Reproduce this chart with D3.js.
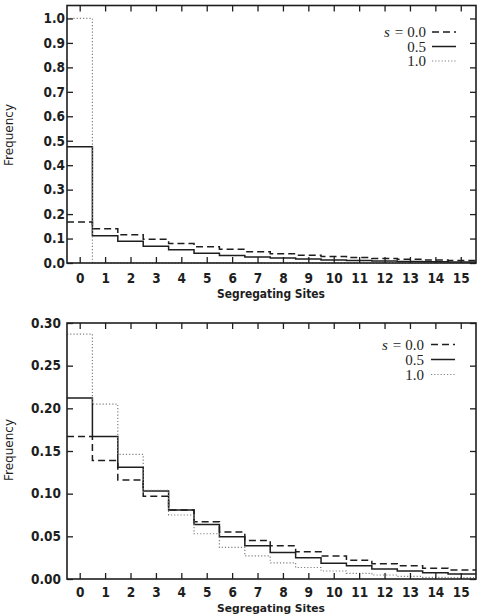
<!DOCTYPE html>
<html lang="en">
<head>
<meta charset="UTF-8">
<title>Segregating Sites</title>
<script src="https://d3js.org/d3.v7.min.js"></script>
<style>
  body { margin: 0; background: #fff; }
  svg { display: block; }
</style>
</head>
<body>
<script>
// bins on the x axis (number of segregating sites)
const sites = [0, 1, 2, 3, 4, 5, 6, 7, 8, 9, 10, 11, 12, 13, 14, 15];

// legend labels, one per series
const sLabels = ["0.0", "0.5", "1.0"];

// top panel
const topS00 = [0.168, 0.140, 0.116, 0.097, 0.080, 0.066, 0.056, 0.046, 0.038, 0.032, 0.027, 0.022, 0.018, 0.015, 0.012, 0.010];
const topS05 = [0.475, 0.111, 0.089, 0.068, 0.054, 0.040, 0.031, 0.025, 0.020, 0.016, 0.012, 0.010, 0.008, 0.006, 0.005, 0.004];
const topS10 = [1.000, 0.000, 0.000, 0.000, 0.000, 0.000, 0.000, 0.000, 0.000, 0.000, 0.000, 0.000, 0.000, 0.000, 0.000, 0.000];

// bottom panel
const botS00 = [0.167, 0.139, 0.116, 0.097, 0.081, 0.067, 0.055, 0.045, 0.039, 0.032, 0.027, 0.022, 0.018, 0.0155, 0.0125, 0.0105];
const botS05 = [0.212, 0.167, 0.131, 0.103, 0.081, 0.064, 0.0495, 0.039, 0.031, 0.025, 0.0185, 0.0155, 0.0117, 0.0094, 0.0074, 0.0059];
const botS10 = [0.287, 0.205, 0.146, 0.104, 0.075, 0.053, 0.037, 0.027, 0.019, 0.0135, 0.0094, 0.0067, 0.0047, 0.003, 0.002, 0.0015];

// tick values
const topYTicks = [0, 0.1, 0.2, 0.3, 0.4, 0.5, 0.6, 0.7, 0.8, 0.9, 1.0];
const botYTicks = [0, 0.05, 0.10, 0.15, 0.20, 0.25, 0.30];

const W = 479, H = 615;
const ink = "#1e1e1e";
const tickFont = "'DejaVu Sans Condensed', 'DejaVu Sans', sans-serif";

// line look per series (s = 0.0, 0.5, 1.0)
const styles = [
  { stroke: ink, width: 1.5, dash: "7,4" },
  { stroke: ink, width: 1.5, dash: null },
  { stroke: "#808080", width: 1.2, dash: "1.2,2" }
];

const svg = d3.select("body").append("svg")
  .attr("width", W)
  .attr("height", H);

const x = d3.scaleLinear().domain([-0.5, 15.6]).range([67, 476]);

function drawPanel(cfg) {
  const y = d3.scaleLinear().domain([0, cfg.yMax]).range([cfg.bottom, cfg.top]);
  const g = svg.append("g");

  // series as step lines
  const line = d3.line()
    .x(d => x(d[0]))
    .y(d => y(d[1]))
    .curve(d3.curveStepAfter);

  cfg.series.forEach((vals, k) => {
    const pts = sites.map((s, i) => [s - 0.5, vals[i]]);
    pts.push([x.domain()[1], vals[vals.length - 1]]);
    const st = styles[k];
    g.append("path")
      .attr("d", line(pts))
      .attr("fill", "none")
      .attr("stroke", st.stroke)
      .attr("stroke-width", st.width)
      .attr("stroke-dasharray", st.dash);
  });

  // axes with inward ticks
  const bottomAxis = d3.axisBottom(x).tickValues(sites).tickSizeInner(-6).tickSizeOuter(0).tickPadding(cfg.tickPad);
  const topAxis = d3.axisTop(x).tickValues(sites).tickSizeInner(-6).tickSizeOuter(0).tickFormat("");
  const leftAxis = d3.axisLeft(y).tickValues(cfg.yTicks).tickSizeInner(-6).tickSizeOuter(0)
    .tickPadding(cfg.labelGap).tickFormat(d3.format(cfg.fmt));
  const rightAxis = d3.axisRight(y).tickValues(cfg.yTicks).tickSizeInner(-6).tickSizeOuter(0).tickFormat("");

  const axes = [
    g.append("g").attr("transform", `translate(0,${cfg.bottom})`).call(bottomAxis),
    g.append("g").attr("transform", `translate(0,${cfg.top})`).call(topAxis),
    g.append("g").attr("transform", `translate(${x.range()[0]},0)`).call(leftAxis),
    g.append("g").attr("transform", `translate(${x.range()[1]},0)`).call(rightAxis)
  ];
  axes.forEach(a => {
    a.select(".domain").remove();
    a.selectAll(".tick line").attr("stroke", ink).attr("stroke-width", 1.3);
    a.selectAll(".tick text")
      .attr("fill", ink)
      .attr("font-family", tickFont)
      .attr("font-weight", "bold")
      .attr("font-size", 13.5);
  });

  // frame
  g.append("rect")
    .attr("x", x.range()[0])
    .attr("y", cfg.top)
    .attr("width", x.range()[1] - x.range()[0])
    .attr("height", cfg.bottom - cfg.top)
    .attr("fill", "none")
    .attr("stroke", ink)
    .attr("stroke-width", 1.6);

  // axis titles
  g.append("text")
    .attr("x", 271)
    .attr("y", cfg.bottom + cfg.titleDy)
    .attr("text-anchor", "middle")
    .attr("font-family", tickFont)
    .attr("font-weight", "bold")
    .attr("font-size", cfg.titleSize)
    .attr("textLength", 108)
    .attr("lengthAdjust", "spacingAndGlyphs")
    .attr("fill", ink)
    .text("Segregating Sites");

  g.append("text")
    .attr("transform", `translate(12.5,${cfg.labelY}) rotate(-90)`)
    .attr("text-anchor", "middle")
    .attr("font-family", "'DejaVu Sans', sans-serif")
    .attr("font-size", 12)
    .attr("fill", ink)
    .text("Frequency");

  // legend
  sLabels.forEach((lab, k) => {
    const cy = cfg.legendY + k * cfg.legendGap;
    const t = g.append("text")
      .attr("x", cfg.legendTextX)
      .attr("y", cy)
      .attr("dy", "0.35em")
      .attr("text-anchor", "end")
      .attr("font-family", "'Liberation Serif', 'DejaVu Serif', serif")
      .attr("font-size", 15)
      .attr("fill", ink);
    if (k === 0) {
      t.append("tspan").attr("font-style", "italic").text("s");
      t.append("tspan").attr("dx", 5).text("=");
      t.append("tspan").attr("dx", 4).text(lab);
    } else {
      t.text(lab);
    }
    const st = styles[k];
    g.append("line")
      .attr("x1", cfg.legendLineX[0])
      .attr("x2", cfg.legendLineX[1])
      .attr("y1", cy)
      .attr("y2", cy)
      .attr("stroke", st.stroke)
      .attr("stroke-width", st.width)
      .attr("stroke-dasharray", st.dash);
  });
}

drawPanel({
  top: 5.5, bottom: 263, yMax: 1.053,
  yTicks: topYTicks, fmt: ".1f", labelGap: 2,
  tickPad: 10.5, titleDy: 35, titleSize: 11.5,
  series: [topS00, topS05, topS10],
  labelY: 135,
  legendY: 32, legendGap: 14.5, legendTextX: 426, legendLineX: [432, 456]
});

drawPanel({
  top: 323, bottom: 579, yMax: 0.30,
  yTicks: botYTicks, fmt: ".2f", labelGap: 6,
  tickPad: 8.5, titleDy: 32.5, titleSize: 11,
  series: [botS00, botS05, botS10],
  labelY: 450,
  legendY: 344.5, legendGap: 15, legendTextX: 424, legendLineX: [431, 455]
});
</script>
</body>
</html>
